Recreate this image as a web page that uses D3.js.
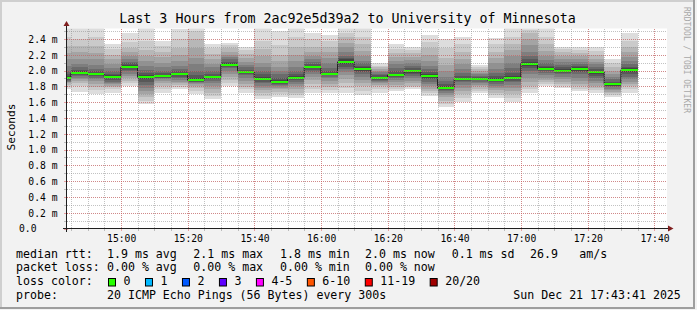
<!DOCTYPE html>
<html>
<head>
<meta charset="utf-8">
<script src="https://cdn.jsdelivr.net/npm/d3@7"></script>
<style>
  html, body { margin: 0; padding: 0; background: #f2f2f2; }
  svg { display: block; font-family: "DejaVu Sans Mono", monospace; }
</style>
</head>
<body>
<svg id="chart"></svg>
<script>
// SmokePing style latency graph: 20 pings per 5 minute step, drawn as "smoke"

const title = "Last 3 Hours from 2ac92e5d39a2 to University of Minnesota";
const yTitle = "Seconds";
const watermark = "RRDTOOL / TOBI OETIKER";
const graphStart = "2025-12-21 14:43:41";
const graphEnd = "2025-12-21 17:43:41";

// end of each 5 minute step (the first one is cut by the graph start)
const stepEnds = ["14:45", "14:50", "14:55", "15:00", "15:05", "15:10", "15:15", "15:20",
  "15:25", "15:30", "15:35", "15:40", "15:45", "15:50", "15:55", "16:00", "16:05", "16:10",
  "16:15", "16:20", "16:25", "16:30", "16:35", "16:40", "16:45", "16:50", "16:55", "17:00",
  "17:05", "17:10", "17:15", "17:20", "17:25", "17:30", "17:35"];

// median rtt per step, ms
const medians = [1.906, 1.97, 1.953, 1.919, 2.042, 1.915, 1.928, 1.957, 1.877, 1.915,
  2.076, 1.982, 1.894, 1.856, 1.906, 2.042, 1.957, 2.109, 2.02, 1.906, 1.944, 1.995,
  1.928, 1.776, 1.894, 1.894, 1.877, 1.906, 2.088, 2.02, 1.995, 2.02, 1.982, 1.824, 2.008];

// sorted ping times per step, ms (20 pings)
const pings = [
  [1.76,1.79,1.82,1.84,1.85,1.86,1.87,1.88,1.89,1.90,1.91,1.93,1.96,2.00,2.06,2.14,2.22,2.31,2.42,2.58],
  [1.73,1.80,1.84,1.87,1.89,1.91,1.93,1.94,1.95,1.96,1.98,1.99,2.01,2.04,2.08,2.14,2.23,2.31,2.40,2.56],
  [1.70,1.75,1.79,1.83,1.87,1.89,1.91,1.93,1.94,1.95,1.96,1.97,1.99,2.02,2.07,2.14,2.22,2.31,2.42,2.55],
  [1.72,1.76,1.79,1.81,1.83,1.84,1.86,1.88,1.90,1.91,1.93,1.94,1.96,1.99,2.03,2.08,2.14,2.20,2.27,2.34],
  [1.80,1.84,1.87,1.90,1.93,1.96,1.99,2.01,2.03,2.04,2.05,2.07,2.09,2.11,2.14,2.18,2.23,2.29,2.36,2.48],
  [1.58,1.62,1.66,1.70,1.74,1.78,1.82,1.86,1.89,1.91,1.92,1.94,1.97,2.01,2.06,2.12,2.18,2.26,2.38,2.56],
  [1.72,1.76,1.80,1.84,1.87,1.89,1.90,1.91,1.92,1.925,1.93,1.94,1.97,2.00,2.04,2.10,2.17,2.24,2.31,2.38],
  [1.76,1.79,1.82,1.84,1.86,1.88,1.90,1.92,1.94,1.95,1.96,1.97,1.99,2.02,2.06,2.12,2.20,2.28,2.40,2.52],
  [1.70,1.74,1.78,1.81,1.83,1.84,1.85,1.86,1.87,1.875,1.88,1.90,1.94,2.00,2.08,2.16,2.28,2.40,2.50,2.56],
  [1.64,1.68,1.72,1.76,1.80,1.84,1.87,1.89,1.90,1.91,1.92,1.93,1.95,1.99,2.04,2.08,2.14,2.21,2.28,2.34],
  [1.80,1.84,1.88,1.92,1.96,2.00,2.03,2.05,2.06,2.07,2.08,2.09,2.11,2.14,2.17,2.20,2.24,2.28,2.32,2.35],
  [1.72,1.76,1.79,1.83,1.87,1.91,1.94,1.96,1.97,1.98,1.985,1.99,2.01,2.04,2.07,2.11,2.16,2.21,2.26,2.30],
  [1.64,1.68,1.72,1.75,1.78,1.81,1.84,1.86,1.88,1.89,1.90,1.92,1.95,1.99,2.04,2.10,2.18,2.27,2.38,2.54],
  [1.67,1.70,1.73,1.76,1.78,1.80,1.82,1.83,1.845,1.85,1.86,1.88,1.91,1.95,1.99,2.05,2.12,2.20,2.32,2.50],
  [1.65,1.69,1.72,1.76,1.80,1.83,1.86,1.88,1.89,1.90,1.91,1.93,1.96,2.00,2.05,2.12,2.20,2.30,2.42,2.55],
  [1.72,1.77,1.83,1.88,1.92,1.95,1.98,2.01,2.03,2.04,2.045,2.06,2.08,2.11,2.15,2.19,2.23,2.30,2.40,2.47],
  [1.71,1.75,1.79,1.83,1.87,1.90,1.92,1.94,1.95,1.955,1.96,1.97,1.99,2.03,2.09,2.16,2.23,2.30,2.37,2.45],
  [1.72,1.78,1.84,1.89,1.94,1.98,2.02,2.05,2.08,2.10,2.12,2.14,2.16,2.19,2.24,2.30,2.35,2.42,2.48,2.55],
  [1.69,1.74,1.80,1.84,1.88,1.92,1.95,1.98,2.00,2.015,2.025,2.04,2.06,2.09,2.12,2.18,2.25,2.33,2.42,2.54],
  [1.71,1.76,1.80,1.82,1.84,1.86,1.87,1.88,1.895,1.90,1.91,1.92,1.94,1.96,1.98,2.00,2.02,2.04,2.06,2.09],
  [1.745,1.77,1.79,1.82,1.85,1.88,1.90,1.92,1.935,1.94,1.95,1.96,1.99,2.03,2.08,2.12,2.17,2.22,2.27,2.33],
  [1.77,1.79,1.81,1.84,1.87,1.90,1.93,1.95,1.97,1.99,2.00,2.01,2.03,2.06,2.09,2.13,2.17,2.22,2.26,2.30],
  [1.68,1.71,1.74,1.77,1.80,1.83,1.86,1.89,1.91,1.925,1.93,1.95,1.98,2.02,2.06,2.12,2.20,2.28,2.36,2.45],
  [1.54,1.58,1.62,1.66,1.69,1.72,1.74,1.755,1.765,1.772,1.78,1.80,1.83,1.87,1.92,1.99,2.07,2.16,2.28,2.40],
  [1.60,1.65,1.70,1.74,1.78,1.82,1.85,1.87,1.88,1.89,1.90,1.91,1.93,1.97,2.02,2.08,2.15,2.24,2.33,2.43],
  [1.71,1.74,1.77,1.80,1.82,1.84,1.86,1.875,1.885,1.89,1.90,1.91,1.92,1.935,1.95,1.97,1.995,2.02,2.05,2.075],
  [1.65,1.69,1.72,1.75,1.78,1.81,1.83,1.85,1.865,1.875,1.88,1.90,1.93,1.97,2.02,2.09,2.16,2.24,2.33,2.41],
  [1.60,1.65,1.70,1.74,1.78,1.82,1.85,1.87,1.89,1.90,1.91,1.93,1.97,2.03,2.10,2.18,2.26,2.34,2.42,2.54],
  [1.71,1.76,1.81,1.86,1.91,1.96,2.00,2.03,2.06,2.08,2.095,2.11,2.14,2.18,2.24,2.32,2.40,2.47,2.51,2.56],
  [1.80,1.83,1.86,1.88,1.91,1.94,1.97,1.99,2.01,2.015,2.025,2.04,2.06,2.09,2.13,2.18,2.25,2.33,2.42,2.55],
  [1.78,1.80,1.83,1.86,1.89,1.92,1.95,1.97,1.98,1.99,2.00,2.02,2.04,2.07,2.11,2.15,2.19,2.23,2.27,2.30],
  [1.74,1.77,1.80,1.83,1.87,1.91,1.95,1.98,2.00,2.015,2.025,2.04,2.06,2.08,2.11,2.14,2.18,2.22,2.26,2.30],
  [1.72,1.75,1.78,1.81,1.84,1.87,1.90,1.93,1.96,1.975,1.99,2.00,2.02,2.05,2.08,2.11,2.15,2.20,2.25,2.30],
  [1.67,1.69,1.71,1.73,1.75,1.77,1.79,1.80,1.81,1.82,1.83,1.84,1.86,1.89,1.92,1.96,2.00,2.04,2.09,2.14],
  [1.72,1.76,1.80,1.83,1.86,1.89,1.92,1.95,1.98,2.00,2.015,2.03,2.05,2.08,2.12,2.17,2.23,2.30,2.38,2.48]
];

// y axis ticks (ms) and their labels
const yTicks = [0, 0.2, 0.4, 0.6, 0.8, 1.0, 1.2, 1.4, 1.6, 1.8, 2.0, 2.2, 2.4];
const yTickLabels = ["0.0", "0.2 m", "0.4 m", "0.6 m", "0.8 m", "1.0 m", "1.2 m",
  "1.4 m", "1.6 m", "1.8 m", "2.0 m", "2.2 m", "2.4 m"];

// legend rows
const rttStats = ["1.9 ms avg", "2.1 ms max", "1.8 ms min", "2.0 ms now", "0.1 ms sd", "26.9", "am/s"];
const lossStats = ["0.00 % avg", "0.00 % max", "0.00 % min", "0.00 % now"];
const lossLabels = ["0", "1", "2", "3", "4-5", "6-10", "11-19", "20/20"];
const lossColors = ["#26ff00", "#00b8ff", "#0059ff", "#5e00ff", "#ff00ff", "#ff5500", "#ff0000", "#a00000"];
const probeText = "20 ICMP Echo Pings (56 Bytes) every 300s";
const stampText = "Sun Dec 21 17:43:41 2025";

const width = 697;
const height = 310;
const plotLeft = 67, plotRight = 667, plotTop = 28.5, plotBottom = 228.5;

const svg = d3.select("#chart")
  .attr("width", width)
  .attr("height", height);

// background and 3d frame like rrdtool
svg.append("rect").attr("width", width).attr("height", height).attr("fill", "#f2f2f2");
svg.append("rect").attr("x", 0).attr("y", 0).attr("width", 695).attr("height", 2).attr("fill", "#cfcfcf");
svg.append("rect").attr("x", 0).attr("y", 0).attr("width", 2).attr("height", 309).attr("fill", "#cfcfcf");
svg.append("rect").attr("x", 693).attr("y", 0).attr("width", 2).attr("height", 309).attr("fill", "#9e9e9e");
svg.append("rect").attr("x", 0).attr("y", 307).attr("width", 695).attr("height", 2).attr("fill", "#9e9e9e");

// canvas
svg.append("rect")
  .attr("x", plotLeft).attr("y", plotTop)
  .attr("width", plotRight - plotLeft).attr("height", plotBottom - plotTop)
  .attr("fill", "#ffffff");

svg.append("clipPath").attr("id", "plotClip")
  .append("rect")
  .attr("x", plotLeft).attr("y", plotTop)
  .attr("width", plotRight - plotLeft).attr("height", plotBottom - plotTop);

const parseFull = d3.timeParse("%Y-%m-%d %H:%M:%S");
const t0 = parseFull(graphStart);
const t1 = parseFull(graphEnd);
const stepTimes = stepEnds.map(s => parseFull("2025-12-21 " + s + ":00"));

const x = d3.scaleTime().domain([t0, t1]).range([66.5, 666.5]);
const y = d3.scaleLinear().domain([0, 2.532]).range([plotBottom, plotTop]);

// step rows with pixel extents
const steps = stepTimes.map((t, i) => {
  const from = new Date(Math.max(t - 300000, t0));
  return { x0: Math.max(x(from), plotLeft), x1: x(t), median: medians[i], pings: pings[i] };
});

const plot = svg.append("g").attr("clip-path", "url(#plotClip)");

// smoke: layer k spans ping k .. ping (21-k), darker towards the middle
const half = 10;
steps.forEach(s => {
  for (let k = 1; k <= half; k++) {
    const lo = s.pings[k - 1];
    const hi = s.pings[20 - k];
    const c = Math.floor(190 / half * (half - k)) + 50;
    plot.append("rect")
      .attr("x", s.x0)
      .attr("width", s.x1 - s.x0)
      .attr("y", y(hi))
      .attr("height", y(lo) - y(hi))
      .attr("fill", d3.rgb(c, c, c))
      .attr("shape-rendering", "crispEdges");
  }
});

// median step line
const medPoints = [];
steps.forEach(s => { medPoints.push([s.x0, y(s.median)], [s.x1, y(s.median)]); });
plot.append("path")
  .attr("d", d3.line()(medPoints))
  .attr("fill", "none")
  .attr("stroke", "#202020")
  .attr("stroke-width", 1);

// median marks coloured by loss (all 0 here)
plot.selectAll(".med")
  .data(steps)
  .enter().append("rect")
  .attr("class", "med")
  .attr("x", d => d.x0)
  .attr("width", d => d.x1 - d.x0)
  .attr("y", d => Math.round(y(d.median)) - 1)
  .attr("height", 2)
  .attr("fill", lossColors[0])
  .attr("shape-rendering", "crispEdges");

// grid on top of the data
const gridColor = "rgba(143,143,143,0.55)";
const mgridColor = "rgba(222,79,79,0.5)";
const minorX = d3.timeMinute.every(5).range(t0, t1);
const majorX = d3.timeMinute.every(20).range(t0, t1);
const minorY = d3.range(0, 26).map(i => i / 10);

const grid = svg.append("g").attr("shape-rendering", "crispEdges");

grid.selectAll(".vmin").data(minorX).enter().append("line")
  .attr("x1", d => Math.round(x(d)) + 0.5).attr("x2", d => Math.round(x(d)) + 0.5)
  .attr("y1", plotTop).attr("y2", plotBottom)
  .attr("stroke", gridColor).attr("stroke-dasharray", "1,1");

grid.selectAll(".hmin").data(minorY.slice(1)).enter().append("line")
  .attr("x1", plotLeft).attr("x2", plotRight)
  .attr("y1", d => Math.round(y(d)) + 0.5).attr("y2", d => Math.round(y(d)) + 0.5)
  .attr("stroke", gridColor).attr("stroke-dasharray", "1,1");

grid.selectAll(".vmaj").data(majorX).enter().append("line")
  .attr("x1", d => Math.round(x(d)) + 0.5).attr("x2", d => Math.round(x(d)) + 0.5)
  .attr("y1", plotTop).attr("y2", plotBottom)
  .attr("stroke", mgridColor).attr("stroke-dasharray", "1,1");

grid.selectAll(".hmaj").data(yTicks.slice(1)).enter().append("line")
  .attr("x1", plotLeft).attr("x2", plotRight)
  .attr("y1", d => Math.round(y(d)) + 0.5).attr("y2", d => Math.round(y(d)) + 0.5)
  .attr("stroke", mgridColor).attr("stroke-dasharray", "1,1");

// small ticks on the axes
grid.selectAll(".xt").data(minorX).enter().append("line")
  .attr("x1", d => Math.round(x(d)) + 0.5).attr("x2", d => Math.round(x(d)) + 0.5)
  .attr("y1", plotBottom - 1).attr("y2", plotBottom + 2.5)
  .attr("stroke", d => majorX.some(m => +m === +d) ? mgridColor : gridColor);

grid.selectAll(".yt").data(minorY).enter().append("line")
  .attr("x1", plotLeft - 3).attr("x2", plotLeft + 1)
  .attr("y1", d => Math.round(y(d)) + 0.5).attr("y2", d => Math.round(y(d)) + 0.5)
  .attr("stroke", (d, i) => i % 2 === 0 ? mgridColor : gridColor);

// axes with arrows
svg.append("line").attr("x1", 63).attr("x2", 669).attr("y1", plotBottom).attr("y2", plotBottom)
  .attr("stroke", "#1f1f1f").attr("shape-rendering", "crispEdges");
svg.append("line").attr("x1", 66.5).attr("x2", 66.5).attr("y1", 232).attr("y2", 24)
  .attr("stroke", "#1f1f1f").attr("shape-rendering", "crispEdges");
svg.append("path").attr("d", "M668,225.5L673.5,228.5L668,231.5Z").attr("fill", "#801f1f");
svg.append("path").attr("d", "M63.5,26L66.5,21L69.5,26Z").attr("fill", "#801f1f");

// tick labels
svg.selectAll(".ylab").data(yTicks).enter().append("text")
  .attr("x", (d, i) => yTickLabels[i].indexOf("m") < 0 ? 36.5 : 57.5)
  .attr("y", d => y(d) + 3.8)
  .attr("text-anchor", "end")
  .style("font-size", "9.7px")
  .attr("fill", "#000")
  .text((d, i) => yTickLabels[i]);

svg.selectAll(".xlab").data(majorX).enter().append("text")
  .attr("x", d => x(d) + 0.8)
  .attr("y", 241.5)
  .attr("text-anchor", "middle")
  .style("font-size", "9.7px")
  .attr("fill", "#000")
  .text(d => d3.timeFormat("%H:%M")(d));

// title, axis title, watermark
svg.append("text")
  .attr("x", 347.5).attr("y", 23)
  .attr("text-anchor", "middle")
  .style("font-size", "13.3px")
  .text(title);

svg.append("text")
  .attr("transform", "translate(14.5,127) rotate(-90)")
  .attr("text-anchor", "middle")
  .style("font-size", "11.2px")
  .text(yTitle);

svg.append("text")
  .attr("transform", "translate(683.5,60) rotate(90)")
  .attr("text-anchor", "middle")
  .style("font-size", "8px")
  .attr("fill", "#a8a8a8")
  .text(watermark);

// legend
const legendFont = "11.6px";
const rows = [257.8, 271.3, 285, 298.8];
const statX = [107, 193.3, 280, 365, 451.7, 530, 579.3];

function legendText(xp, yp, str) {
  svg.append("text")
    .attr("x", xp).attr("y", yp)
    .style("font-size", legendFont)
    .style("white-space", "pre")
    .text(str);
}

legendText(16, rows[0], "median rtt:");
rttStats.forEach((s, i) => legendText(statX[i], rows[0], s));

legendText(16, rows[1], "packet loss:");
lossStats.forEach((s, i) => legendText(statX[i], rows[1], s));

legendText(16, rows[2], "loss color:");
let lx = 108.5;
lossLabels.forEach((lab, i) => {
  svg.append("rect")
    .attr("x", lx).attr("y", 278.5)
    .attr("width", 7).attr("height", 7.5)
    .attr("fill", lossColors[i])
    .attr("stroke", "#000").attr("stroke-width", 1);
  legendText(lx + 15, rows[2], lab);
  lx += 15 + lab.length * 6.98 + 15;
});

legendText(16, rows[3], "probe:");
legendText(107, rows[3], probeText);
legendText(513.3, rows[3], stampText);
</script>
</body>
</html>
